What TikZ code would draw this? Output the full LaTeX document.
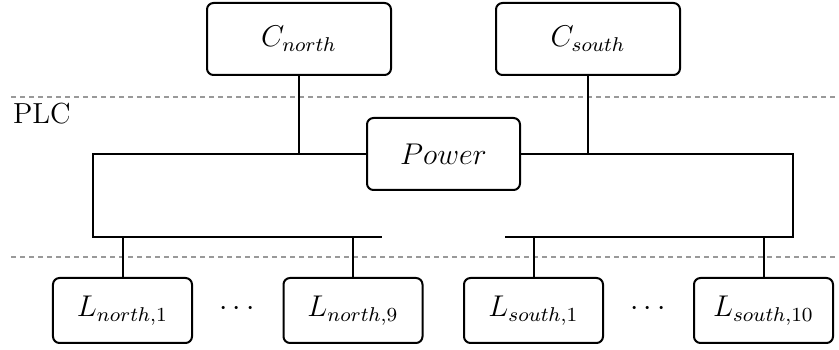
\documentclass[tikz,border=0pt]{standalone}
\begin{document}
\begin{tikzpicture}[x=0.4pt,y=-0.4pt,
  line width=0.8pt,
  unit/.style={draw, rounded corners=2.6pt, inner sep=0pt, font=\fontsize{11.6}{14}\selectfont},
  ctrl/.style={unit, minimum width=73.6pt, minimum height=28.8pt},
  load/.style={unit, minimum width=55.6pt, minimum height=26pt},
  layer/.style={draw=black!40, line width=0.6pt, dash pattern=on 2pt off 1.6pt},
  txt/.style={font=\fontsize{11.6}{14}\selectfont}]
\useasboundingbox (0,0) rectangle (839,350);

% layer boundaries
\draw[layer] (11,97) -- (839,97);
\draw[layer] (11,257) -- (839,257);
\node[txt, anchor=base west, inner sep=0pt] (plc) at (12,124) {PLC};

% controllers and power unit
\node[ctrl] (cn) at (299,39) {$C_{north}$};
\node[ctrl] (cs) at (588,39) {$C_{south}$};
\node[unit, minimum width=61.2pt, minimum height=28.8pt] (pw) at (443.5,154) {$Power$};

% loads
\node[load] (ln1) at (122.5,310.5) {$L_{north,1}$};
\node[load] (ln9) at (353,310.5) {$L_{north,9}$};
\node[load] (ls1) at (533.5,310.5) {$L_{south,1}$};
\node[load] (ls10) at (763.5,310.5) {$L_{south,10}$};
\node[txt] (dn) at (237,309) {$\cdots$};
\node[txt] (ds) at (648,309) {$\cdots$};

% bus corners
\coordinate (lt) at (93,154);
\coordinate (lb) at (93,237);
\coordinate (le) at (382,237);
\coordinate (rt) at (793,154);
\coordinate (rb) at (793,237);
\coordinate (re) at (505,237);

% buses
\draw (pw.west) -- (lt) -- (lb) -- (le);
\draw (pw.east) -- (rt) -- (rb) -- (re);
\draw (cn.south) -- (cn.south |- lt);
\draw (cs.south) -- (cs.south |- rt);
\draw (ln1.north) -- (ln1.north |- lb);
\draw (ln9.north) -- (ln9.north |- lb);
\draw (ls1.north) -- (ls1.north |- rb);
\draw (ls10.north) -- (ls10.north |- rb);
\end{tikzpicture}
\end{document}
